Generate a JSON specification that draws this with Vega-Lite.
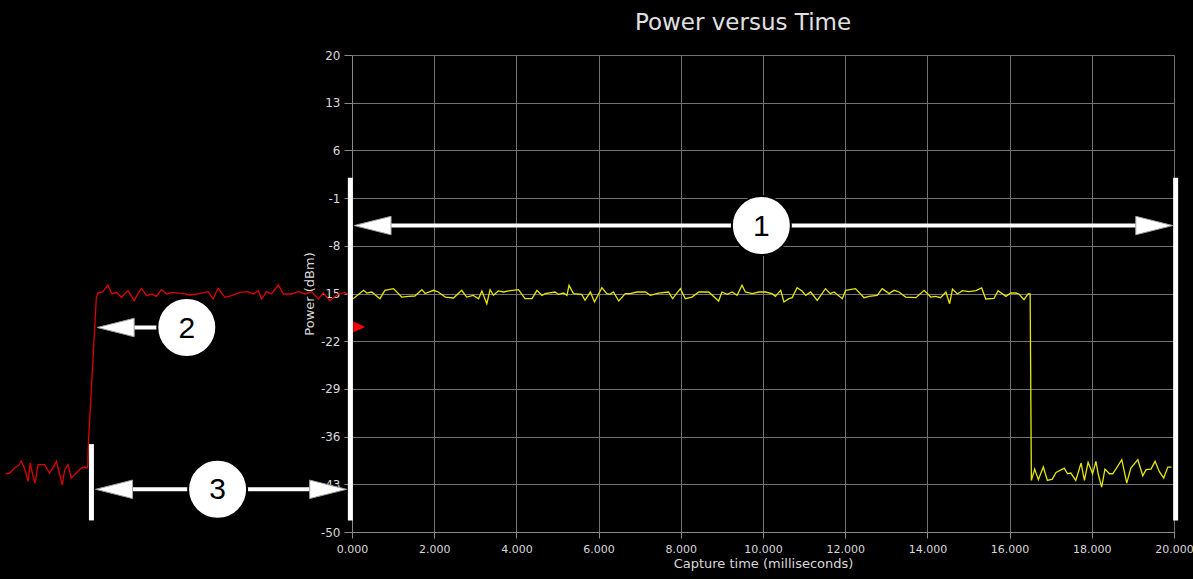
{
  "$schema": "https://vega.github.io/schema/vega-lite/v6.json",
  "width": 822,
  "height": 477,
  "autosize": {"type": "none"},
  "padding": {"left": 352, "top": 55, "right": 19, "bottom": 47},
  "background": "#000000",
  "config": {"view": {"stroke": null}, "font": "DejaVu Sans"},
  "title": {"text": "Power versus Time", "fontSize": 23, "font": "DejaVu Sans", "fontWeight": "normal", "color": "#e0e0e0", "anchor": "middle", "dx": -20, "offset": 14},
  "datasets": {
    "yellow": [
      {"t":0.03,"v":-15.76},{"t":0.28,"v":-14.53},{"t":0.36,"v":-14.93},{"t":0.48,"v":-14.78},{"t":0.68,"v":-15.76},{"t":0.80,"v":-14.53},{"t":1.01,"v":-14.29},{"t":1.21,"v":-15.52},{"t":1.37,"v":-15.42},{"t":1.53,"v":-15.37},{"t":1.70,"v":-14.44},{"t":1.78,"v":-15.0},{"t":1.98,"v":-14.53},{"t":2.10,"v":-14.78},{"t":2.27,"v":-15.52},{"t":2.47,"v":-15.66},{"t":2.67,"v":-14.53},{"t":2.79,"v":-15.52},{"t":2.95,"v":-15.27},{"t":3.08,"v":-15.76},{"t":3.16,"v":-14.63},{"t":3.28,"v":-16.5},{"t":3.36,"v":-14.44},{"t":3.44,"v":-15.27},{"t":3.56,"v":-14.63},{"t":3.69,"v":-14.78},{"t":3.81,"v":-14.63},{"t":4.05,"v":-14.44},{"t":4.21,"v":-15.76},{"t":4.38,"v":-15.76},{"t":4.50,"v":-14.53},{"t":4.62,"v":-15.27},
      {"t":4.70,"v":-15.02},{"t":4.94,"v":-14.78},{"t":5.02,"v":-15.12},{"t":5.15,"v":-14.93},{"t":5.23,"v":-15.27},{"t":5.28,"v":-13.80},{"t":5.39,"v":-15.02},{"t":5.59,"v":-15.12},{"t":5.67,"v":-16.0},{"t":5.80,"v":-14.78},{"t":5.90,"v":-16.25},{"t":6.08,"v":-14.14},{"t":6.20,"v":-15.02},{"t":6.28,"v":-15.12},{"t":6.36,"v":-14.78},{"t":6.49,"v":-16.1},{"t":6.65,"v":-15.02},{"t":6.77,"v":-15.02},{"t":6.93,"v":-14.78},{"t":7.14,"v":-14.78},{"t":7.26,"v":-15.27},{"t":7.46,"v":-14.93},{"t":7.70,"v":-14.78},{"t":7.80,"v":-15.76},{"t":7.99,"v":-14.29},{"t":8.11,"v":-15.76},{"t":8.27,"v":-15.52},{"t":8.44,"v":-14.78},{"t":8.68,"v":-14.78},{"t":8.92,"v":-16.1},{"t":9.00,"v":-14.78},{"t":9.13,"v":-15.12},{"t":9.25,"v":-14.78},{"t":9.37,"v":-15.27},{"t":9.49,"v":-13.80},{"t":9.57,"v":-14.78},
      {"t":9.74,"v":-15.02},{"t":9.90,"v":-14.78},{"t":10.06,"v":-14.78},{"t":10.22,"v":-15.02},{"t":10.30,"v":-15.42},{"t":10.43,"v":-14.53},{"t":10.51,"v":-16.25},{"t":10.63,"v":-15.76},{"t":10.71,"v":-15.61},{"t":10.83,"v":-14.14},{"t":10.95,"v":-14.63},{"t":11.04,"v":-15.27},{"t":11.16,"v":-14.78},{"t":11.32,"v":-16.0},{"t":11.52,"v":-14.29},{"t":11.64,"v":-15.02},{"t":11.73,"v":-14.78},{"t":11.93,"v":-15.76},{"t":12.01,"v":-14.53},{"t":12.25,"v":-14.29},{"t":12.46,"v":-15.61},{"t":12.58,"v":-15.42},{"t":12.78,"v":-15.27},{"t":12.90,"v":-14.29},{"t":13.07,"v":-15.02},{"t":13.19,"v":-14.53},{"t":13.31,"v":-14.78},{"t":13.47,"v":-15.52},{"t":13.72,"v":-15.61},{"t":13.92,"v":-14.53},{"t":14.08,"v":-15.52},{"t":14.20,"v":-15.42},{"t":14.32,"v":-15.61},{"t":14.45,"v":-14.78},{"t":14.54,"v":-16.5},
      {"t":14.61,"v":-14.34},{"t":14.73,"v":-15.07},{"t":14.85,"v":-14.58},{"t":15.01,"v":-14.73},{"t":15.18,"v":-14.58},{"t":15.32,"v":-14.19},{"t":15.42,"v":-15.81},{"t":15.62,"v":-15.71},{"t":15.72,"v":-14.58},{"t":15.91,"v":-15.42},{"t":16.03,"v":-14.93},{"t":16.15,"v":-14.93},{"t":16.23,"v":-15.07},{"t":16.35,"v":-15.91},{"t":16.45,"v":-15.07},{"t":16.50,"v":-15.07},
      {"t":16.53,"v":-42.43},{"t":16.61,"v":-40.76},{"t":16.70,"v":-42.33},{"t":16.82,"v":-40.47},{"t":16.92,"v":-42.43},{"t":17.04,"v":-42.24},{"t":17.13,"v":-41.25},{"t":17.33,"v":-40.62},{"t":17.41,"v":-41.45},{"t":17.49,"v":-41.35},{"t":17.61,"v":-42.43},{"t":17.74,"v":-39.88},{"t":17.82,"v":-42.43},{"t":17.91,"v":-39.78},{"t":18.02,"v":-41.45},{"t":18.10,"v":-39.63},{"t":18.16,"v":-41.60},{"t":18.24,"v":-43.42},{"t":18.32,"v":-40.76},{"t":18.43,"v":-41.45},{"t":18.51,"v":-41.45},{"t":18.60,"v":-40.62},{"t":18.73,"v":-39.39},{"t":18.85,"v":-42.83},{"t":18.95,"v":-40.62},{"t":19.12,"v":-39.39},{"t":19.24,"v":-41.75},{"t":19.32,"v":-40.86},{"t":19.44,"v":-40.76},{"t":19.54,"v":-39.63},{"t":19.64,"v":-41.11},{"t":19.75,"v":-42.09},{"t":19.85,"v":-40.47},{"t":19.94,"v":-40.47}
    ],
    "red": [
      {"t":-8.43,"v":-41.45},{"t":-8.33,"v":-41.35},{"t":-8.21,"v":-40.62},{"t":-8.09,"v":-40.12},{"t":-8.05,"v":-39.63},{"t":-7.97,"v":-40.62},{"t":-7.88,"v":-42.58},{"t":-7.83,"v":-39.88},{"t":-7.76,"v":-41.84},{"t":-7.71,"v":-42.83},{"t":-7.64,"v":-40.12},{"t":-7.48,"v":-40.12},{"t":-7.36,"v":-41.35},{"t":-7.28,"v":-40.62},{"t":-7.19,"v":-39.63},{"t":-7.11,"v":-41.6},{"t":-7.05,"v":-43.07},{"t":-6.99,"v":-40.86},{"t":-6.91,"v":-40.12},{"t":-6.83,"v":-42.09},{"t":-6.71,"v":-41.35},{"t":-6.59,"v":-40.62},{"t":-6.50,"v":-40.47},{"t":-6.45,"v":-40.62},
      {"t":-6.43,"v":-40.4},{"t":-6.41,"v":-36.5},{"t":-6.22,"v":-15.6},
      {"t":-6.18,"v":-14.93},{"t":-6.06,"v":-14.73},{"t":-5.94,"v":-13.75},{"t":-5.84,"v":-15.07},{"t":-5.73,"v":-14.83},{"t":-5.61,"v":-15.56},{"t":-5.45,"v":-14.58},{"t":-5.30,"v":-16.05},{"t":-5.20,"v":-14.93},{"t":-5.12,"v":-14.24},{"t":-5.00,"v":-15.32},{"t":-4.88,"v":-15.07},{"t":-4.76,"v":-15.42},{"t":-4.64,"v":-14.43},{"t":-4.51,"v":-15.07},{"t":-4.39,"v":-14.83},{"t":-4.23,"v":-14.93},{"t":-4.07,"v":-15.07},{"t":-3.95,"v":-15.22},{"t":-3.74,"v":-15.07},{"t":-3.50,"v":-14.73},{"t":-3.38,"v":-15.81},{"t":-3.26,"v":-14.24},{"t":-3.09,"v":-15.56},{"t":-2.93,"v":-15.32},{"t":-2.73,"v":-14.83},{"t":-2.53,"v":-14.73},{"t":-2.40,"v":-15.07},{"t":-2.28,"v":-14.58},{"t":-2.20,"v":-15.81},{"t":-2.08,"v":-14.73},{"t":-1.96,"v":-15.07},{"t":-1.79,"v":-13.75},{"t":-1.67,"v":-15.07},{"t":-1.47,"v":-15.07},{"t":-1.31,"v":-14.73},{"t":-1.14,"v":-15.07},{"t":-0.98,"v":-14.73},{"t":-0.82,"v":-15.81},{"t":-0.70,"v":-14.93},{"t":-0.54,"v":-16.05},{"t":-0.33,"v":-15.07},{"t":-0.17,"v":-14.83},{"t":-0.09,"v":-15.22}
    ],
    "bars": [
      {"t":-0.04,"v":2.0,"v2":-48.3},
      {"t":20.04,"v":2.0,"v2":-48.3},
      {"t":-6.34,"v":-37.1,"v2":-48.3}
    ],
    "shafts": [
      {"t":0.5,"t2":19.5,"v":-5.03},
      {"t":-6.0,"t2":-0.5,"v":-43.74},
      {"t":-5.9,"t2":-4.02,"v":-19.99}
    ],
    "heads": [
      {"t":0.05,"v":-5.03,"dir":"L"},
      {"t":19.97,"v":-5.03,"dir":"R"},
      {"t":-6.24,"v":-43.74,"dir":"L"},
      {"t":-0.13,"v":-43.74,"dir":"R"},
      {"t":-6.2,"v":-19.99,"dir":"L"}
    ],
    "circles": [
      {"t":9.96,"v":-5.03,"label":"1"},
      {"t":-4.02,"v":-19.99,"label":"2"},
      {"t":-3.27,"v":-43.74,"label":"3"}
    ],
    "marker": [
      {"t":0.03,"v":-19.91}
    ]
  },
  "encoding": {
    "x": {
      "field": "t", "type": "quantitative",
      "scale": {"domain": [0, 20], "nice": false, "zero": false},
      "axis": {
        "values": [0,2,4,6,8,10,12,14,16,18,20],
        "format": ".3f",
        "labelColor": "#d8d8d8", "labelFontSize": 11, "labelFont": "DejaVu Sans",
        "labelPadding": 5, "labelFlush": false, "labelOverlap": false,
        "tickColor": "#8a8a8a", "tickSize": 6,
        "domainColor": "#8a8a8a",
        "grid": true, "gridColor": "#727272", "gridWidth": 1,
        "title": "Capture time (milliseconds)", "titleColor": "#d8d8d8", "titleFontSize": 13,
        "titleFont": "DejaVu Sans", "titleFontWeight": "normal", "titlePadding": 3
      }
    },
    "y": {
      "field": "v", "type": "quantitative",
      "scale": {"domain": [-50, 20], "nice": false, "zero": false},
      "axis": {
        "values": [20,13,6,-1,-8,-15,-22,-29,-36,-43,-50],
        "labelExpr": "'' + datum.value",
        "labelColor": "#d8d8d8", "labelFontSize": 12, "labelFont": "DejaVu Sans",
        "labelPadding": 4, "labelFlush": false, "labelOverlap": false,
        "tickColor": "#8a8a8a", "tickSize": 8,
        "domainColor": "#8a8a8a",
        "grid": true, "gridColor": "#727272", "gridWidth": 1,
        "title": "Power (dBm)", "titleColor": "#d8d8d8", "titleFontSize": 13,
        "titleFont": "DejaVu Sans", "titleFontWeight": "normal", "titlePadding": 4
      }
    }
  },
  "layer": [
    {
      "data": {"name": "red"},
      "mark": {"type": "line", "color": "#e00000", "strokeWidth": 1.3, "clip": false},
      "encoding": {"order": {"field": "t", "type": "quantitative"}}
    },
    {
      "data": {"name": "yellow"},
      "mark": {"type": "line", "color": "#e6e600", "strokeWidth": 1.3},
      "encoding": {"order": {"field": "t", "type": "quantitative"}}
    },
    {
      "data": {"name": "bars"},
      "mark": {"type": "rule", "color": "#ffffff", "strokeWidth": 5},
      "encoding": {"y2": {"field": "v2"}}
    },
    {
      "data": {"name": "shafts"},
      "mark": {"type": "rule", "color": "#ffffff", "strokeWidth": 4},
      "encoding": {"x2": {"field": "t2"}}
    },
    {
      "data": {"name": "heads"},
      "mark": {"type": "point", "filled": true, "fill": "#ffffff", "stroke": "#a0a0a0", "strokeWidth": 1, "opacity": 1, "size": 1369},
      "encoding": {
        "shape": {"field": "dir", "type": "nominal", "legend": null,
          "scale": {"domain": ["L", "R"], "range": ["M0,0L2,-0.5L2,0.5Z", "M0,0L-2,-0.5L-2,0.5Z"]}}
      }
    },
    {
      "data": {"name": "circles"},
      "mark": {"type": "point", "shape": "circle", "filled": true, "fill": "#ffffff", "stroke": "#000000", "strokeWidth": 2, "opacity": 1, "size": 3481}
    },
    {
      "data": {"name": "circles"},
      "mark": {"type": "text", "color": "#000000", "font": "Liberation Sans", "fontSize": 30, "align": "center", "baseline": "middle", "dy": 1},
      "encoding": {"text": {"field": "label"}}
    },
    {
      "data": {"name": "marker"},
      "mark": {"type": "point", "shape": "M0,-0.9L2,0L0,0.9Z", "filled": true, "fill": "#ff0000", "strokeWidth": 0, "opacity": 1, "size": 144}
    }
  ]
}
